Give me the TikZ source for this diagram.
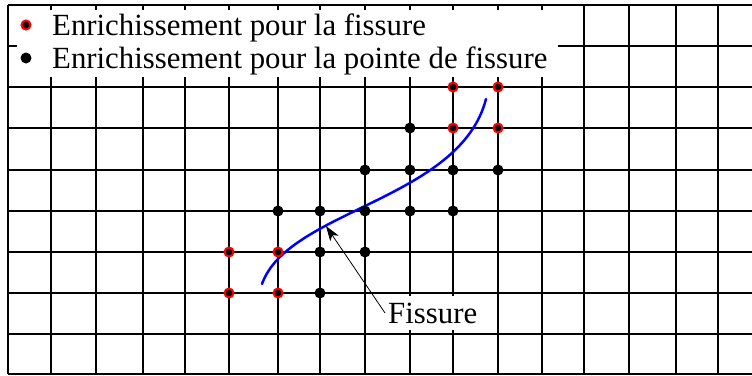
\documentclass[tikz,border=0pt]{standalone}
\usepackage{fontspec}
\setmainfont{Liberation Serif}
\usetikzlibrary{arrows.meta}
\begin{document}
\begin{tikzpicture}[x=1pt,y=-1pt,
  gridline/.style={line width=1.6pt,black},
  tipdot/.style={circle,fill=black,inner sep=0pt,minimum size=11pt},
  crackdot/.style={circle,fill=black,draw=red,line width=2pt,inner sep=0pt,minimum size=9pt},
  crack/.style={blue,line width=2.5pt},
  lbl/.style={font=\fontsize{30.8}{36}\selectfont,inner sep=0pt},
  pointer/.style={line width=0.8pt,-{Stealth[length=15pt,width=10pt,inset=4pt]}}]
\useasboundingbox (0,0) rectangle (752,375);
\fill[white] (0,0) rectangle (752,375);
% grid
\foreach \x in {8,51,96,143,185,229,278,320,365,410,453,498,542,584,629,676,718}
  \draw[gridline] (\x,5) -- (\x,374);
\foreach \y in {5,46,87,128,170,211,252,293,334,374}
  \draw[gridline] (8,\y) -- (752,\y);
% legend
\fill[white] (17,10) rectangle (558,77);
\node[crackdot] (lc) at (26,25) {};
\node[tipdot] (lt) at (26,58) {};
\node[lbl,anchor=base west] (l1) at (52,35) {Enrichissement pour la fissure};
\node[lbl,anchor=base west] (l2) at (52,68) {Enrichissement pour la pointe de fissure};
% crack
\coordinate (cs) at (262,284);
\coordinate (ce) at (486,99);
\draw[crack,line cap=round] (cs) .. controls (288,210) and (460,200) .. (ce);
% crack enrichment nodes
\foreach \x/\y [count=\i] in {453/87,498/87,453/128,498/128,229/252,278/252,229/293,278/293}
  \node[crackdot] (c\i) at (\x,\y) {};
% tip enrichment nodes
\foreach \x/\y [count=\i] in {410/128,365/170,410/170,453/170,498/170,278/211,320/211,365/211,410/211,453/211,320/252,365/252,320/293}
  \node[tipdot] (t\i) at (\x,\y) {};
% label
\node[lbl,fill=white,inner xsep=3pt,inner ysep=7pt,anchor=base west] (fis) at (385,323) {Fissure};
\coordinate (tip) at (326,226);
\draw[pointer] (fis.west) -- (tip);
\end{tikzpicture}
\end{document}
